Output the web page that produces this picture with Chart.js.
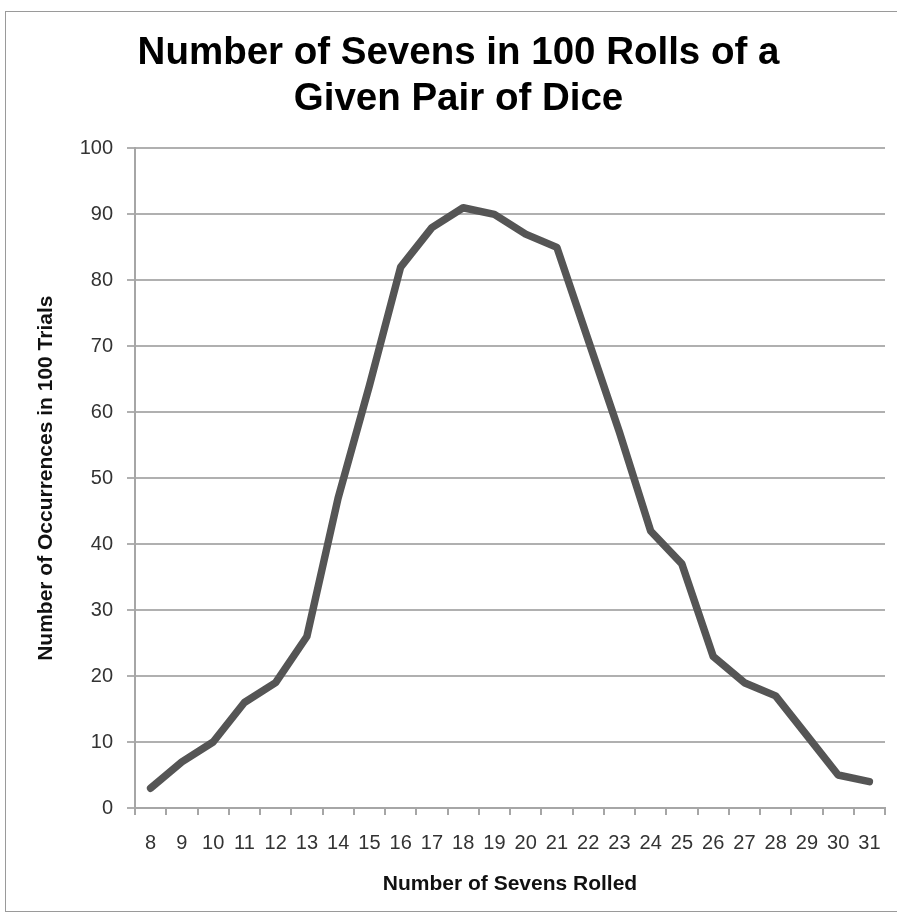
<!DOCTYPE html>
<html lang="en">
<head>
  <meta charset="utf-8">
  <title>Number of Sevens in 100 Rolls</title>
  <script src="https://cdn.jsdelivr.net/npm/chart.js"></script>
  <style>
    body { margin: 0; background: #fff; }
    .chart-container { position: relative; width: 897px; height: 915px; }
    .frame {
      position: absolute; left: 5px; top: 11px; width: 900px; height: 899px;
      border: 1px solid #9a9a9a; pointer-events: none;
    }
  </style>
</head>
<body>
  <div class="chart-container">
    <canvas id="myChart"></canvas>
    <div class="frame"></div>
  </div>
  <script>
    // values
    const sevensRolled = ['8', '9', '10', '11', '12', '13', '14', '15', '16', '17', '18', '19',
                          '20', '21', '22', '23', '24', '25', '26', '27', '28', '29', '30', '31'];
    const occurrences = [3, 7, 10, 16, 19, 26, 47, 64, 82, 88, 91, 90,
                         87, 85, 71, 57, 42, 37, 23, 19, 17, 11, 5, 4];
    const yMin = 0;
    const yMax = 100;
    const yStep = 10;

    const titleLines = ['Number of Sevens in 100 Rolls of a', 'Given Pair of Dice'];
    const xTitle = 'Number of Sevens Rolled';
    const yTitle = 'Number of Occurrences in 100 Trials';

    const FONT = "'Liberation Sans', Arial, sans-serif";

    let ctx = document.getElementById('myChart').getContext('2d');
    let lineChart = new Chart(ctx, {
      type: 'line',
      data: {
        labels: sevensRolled,
        datasets: [{
          label: 'Occurrences',
          data: occurrences,
          borderColor: '#555555',
          borderWidth: 7.5,
          borderJoinStyle: 'round',
          borderCapStyle: 'round',
          pointRadius: 0,
          tension: 0,
          fill: false
        }]
      },
      options: {
        responsive: true,
        maintainAspectRatio: false,
        animation: false,
        // left padding keeps the title centred like the original
        layout: { padding: { left: 32, right: 12, top: 0, bottom: 0 } },
        plugins: {
          legend: { display: false },
          tooltip: { enabled: false },
          title: {
            display: true,
            text: titleLines,
            color: '#000',
            font: { family: FONT, size: 38.5, weight: 'bold', lineHeight: 1.2 },
            padding: { top: 30, bottom: 26 }
          }
        },
        scales: {
          x: {
            offset: true,
            grid: {
              offset: true,
              drawOnChartArea: false,
              drawTicks: true,
              tickLength: 7,
              color: '#a6a6a6',
              lineWidth: 2
            },
            border: { color: '#a6a6a6', width: 2 },
            ticks: {
              color: '#333',
              font: { family: FONT, size: 20 },
              padding: 16,
              autoSkip: false,
              maxRotation: 0
            },
            title: {
              display: true,
              text: xTitle,
              color: '#111',
              font: { family: FONT, size: 21, weight: 'bold' },
              padding: { top: 0, bottom: 18 }
            },
            afterFit: (s) => { s.height = 107; }
          },
          y: {
            min: yMin,
            max: yMax,
            grid: {
              color: '#b0b0b0',
              lineWidth: 2,
              tickLength: 8
            },
            border: { color: '#a6a6a6', width: 2 },
            ticks: {
              stepSize: yStep,
              color: '#333',
              font: { family: FONT, size: 20 },
              padding: 14
            },
            title: {
              display: true,
              text: yTitle,
              color: '#111',
              font: { family: FONT, size: 21, weight: 'bold' },
              padding: { top: 2, bottom: 0 }
            },
            afterFit: (s) => { s.width = 103; }
          }
        }
      }
    });
  </script>
</body>
</html>
